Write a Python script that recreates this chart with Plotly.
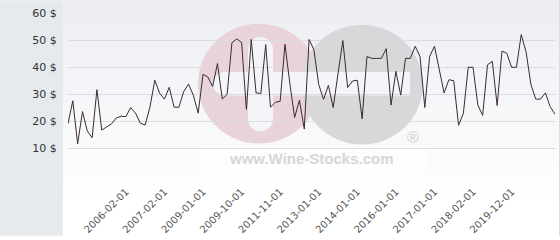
import plotly.graph_objects as go

# ---- data ----
prices = [19, 27.5, 11.5, 23.5, 16.3, 13.8, 31.6, 16.6, 17.8, 18.9,
          21.1, 21.8, 21.6, 25, 22.9, 19.2, 18.5, 25.2, 35.1, 30.3,
          28.1, 32.5, 25.1, 25.1, 30.9, 33.7, 29.5, 22.9, 37.3, 36.3,
          32.8, 41.3, 28.1, 29.9, 49, 50.4, 49.1, 24.3, 50.2, 30.4,
          30.2, 48.3, 25.1, 26.9, 27.3, 48.4, 34, 21.3, 27.7, 17,
          50.2, 46.4, 33.5, 28, 33.2, 25, 37.5, 49.8, 32.4, 34.8,
          35.1, 20.8, 43.9, 43.2, 43.2, 43.2, 46.8, 25.9, 38.4, 29.6,
          43.2, 43.2, 47.7, 43.9, 25, 43.9, 47.7, 39.3, 30.4, 35.3,
          34.9, 18.4, 22.9, 39.9, 39.9, 25.9, 22.1, 40.8, 42.1, 25.7,
          45.9, 45.1, 39.9, 39.9, 52, 45.6, 33.6, 28.1, 28.1, 30.4,
          25.3, 22.5]
tick_index = [12, 20, 28, 36, 44, 52, 60, 68, 76, 84, 92]
tick_dates = ["2006-02-01", "2007-02-01", "2009-01-01", "2009-10-01", "2011-11-01",
              "2013-01-01", "2014-01-01", "2016-01-01", "2017-01-01", "2018-02-01",
              "2019-12-01"]
y_ticks = [0, 10, 20, 30, 40, 50, 60]
y_labels = ["", "10 $", "20 $", "30 $", "40 $", "50 $", "60 $"]

# ---- layout geometry ----
W, H = 560, 240
ML, MR, MT, MB = 68, 5, 13, 62
PW, PH = W - ML - MR, H - MT - MB
XMAX = len(prices) - 1
YMAX = 60


def px2x(px):
    return (px - ML) / PW * XMAX


def py2y(py):
    return (H - MB - py) / PH * YMAX


def pxp(px):
    return (px - ML) / PW


def pyp(py):
    return (H - MB - py) / PH


shapes = []
# gradient background on the right part
N = 30
top = (236, 238, 243)
bot = (255, 255, 255)
for i in range(N):
    t = i / (N - 1)
    c = tuple(round(top[k] + (bot[k] - top[k]) * min(1, t * 1.15)) for k in range(3))
    y0 = H * i / N
    y1 = H * (i + 1) / N + 0.5
    shapes.append(dict(type="rect", xref="paper", yref="paper", layer="below",
                       x0=pxp(63), x1=pxp(W), y0=pyp(y1), y1=pyp(y0),
                       fillcolor="rgb(%d,%d,%d)" % c, line_width=0))
# left grey panel
shapes.append(dict(type="rect", xref="paper", yref="paper", layer="below",
                   x0=pxp(0), x1=pxp(63), y0=pyp(H), y1=pyp(0),
                   fillcolor="#e7eaed", line_width=0))
# right border
shapes.append(dict(type="line", xref="paper", yref="paper", layer="below",
                   x0=pxp(559.5), x1=pxp(559.5), y0=pyp(H), y1=pyp(0),
                   line=dict(color="#dcdde2", width=1)))

# watermark
def circ(cx, cy, r, color):
    return dict(type="circle", xref="x", yref="y", layer="below",
                x0=px2x(cx - r), x1=px2x(cx + r), y0=py2y(cy + r), y1=py2y(cy - r),
                fillcolor=color, line_width=0)


def rrect(x0, y0, x1, y1, color):
    return dict(type="rect", xref="x", yref="y", layer="below",
                x0=px2x(x0), x1=px2x(x1), y0=py2y(y1), y1=py2y(y0),
                fillcolor=color, line_width=0)


shapes.append(circ(259, 85, 61, "rgb(233,211,218)"))
shapes.append(circ(362, 86, 61, "rgb(216,216,219)"))
wm_white = "rgb(244,245,248)"
shapes.append(rrect(225, 73, 410, 97, wm_white))
shapes.append(circ(225, 85, 12, wm_white))
shapes.append(circ(398, 85, 12, wm_white))
shapes.append(rrect(248, 50, 273, 121, wm_white))
shapes.append(circ(260.5, 50, 12.5, wm_white))
shapes.append(circ(260.5, 121, 12.5, wm_white))
shapes.append(rrect(200, 148, 427, 173, "rgba(255,255,255,0.5)"))

annotations = [
    dict(x=px2x(311), y=py2y(161), xref="x", yref="y", text="<b>www.Wine-Stocks.com</b>",
         showarrow=False, font=dict(family="Liberation Sans, Arial", size=15, color="#d6d6d8")),
    dict(x=px2x(413), y=py2y(140), xref="x", yref="y", text="®",
         showarrow=False, font=dict(family="Liberation Sans, Arial", size=16, color="#cfcfd2")),
]

fig = go.Figure()
fig.add_trace(go.Scatter(x=list(range(len(prices))), y=prices, mode="lines",
                         line=dict(color="#3d2a32", width=1), hoverinfo="skip"))

fig.update_layout(
    width=W, height=H,
    margin=dict(l=ML, r=MR, t=MT, b=MB, pad=0),
    paper_bgcolor="white", plot_bgcolor="rgba(0,0,0,0)",
    showlegend=False,
    shapes=shapes, annotations=annotations,
    font=dict(family="DejaVu Sans", size=11, color="#333"),
)
fig.update_xaxes(range=[0, XMAX], showgrid=False, zeroline=False, showline=False,
                 tickmode="array", tickvals=tick_index, ticktext=tick_dates,
                 tickangle=-45, tickfont=dict(size=10, color="#555"),
                 ticks="outside", ticklen=6, tickcolor="rgba(0,0,0,0)")
fig.update_yaxes(range=[0, YMAX], showgrid=True, gridcolor="#dcdcdf", gridwidth=1,
                 zeroline=False, showline=False,
                 tickmode="array", tickvals=y_ticks, ticktext=y_labels,
                 tickfont=dict(size=11, color="#333"),
                 ticks="outside", ticklen=8, tickcolor="rgba(0,0,0,0)")

fig.write_html("out.html")
